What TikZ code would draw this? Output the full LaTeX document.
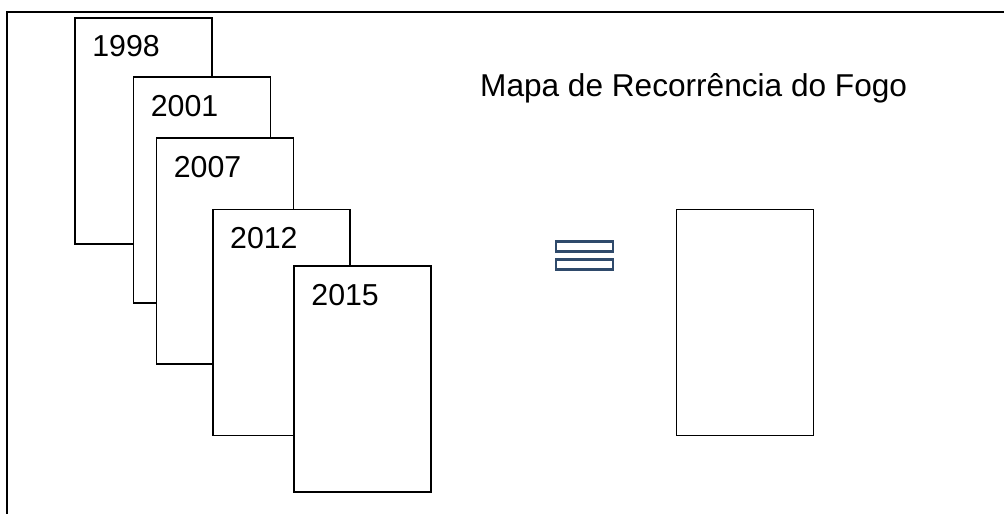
\documentclass[tikz,border=0pt]{standalone}
\usepackage{fontspec}
\setmainfont{Liberation Sans}
\usetikzlibrary{positioning}
\definecolor{eqblue}{HTML}{2F4A6B}

\begin{document}
\begin{tikzpicture}[x=1pt,y=-1pt,
    sheet/.style={draw,fill=white,line width=1.6pt,minimum width=137pt,minimum height=226pt,inner sep=0pt},
    year/.style={anchor=base west,inner sep=0pt,font=\fontsize{30.3}{36}\selectfont},
    bar/.style={draw=eqblue,fill=white,line width=2.8pt,minimum width=57pt,minimum height=10pt,inner sep=0pt}]
  \useasboundingbox (0,0) rectangle (1004,514);
  \draw[line width=1.8pt] (7,514) |- (1004,12);

  \path
  (143.5,130.7) node[sheet](m1998) {}
  ([shift={(18,40)}]m1998.north west) node[year](t1998) {1998}
  (202,189.8) node[sheet](m2001) {}
  ([shift={(18,40)}]m2001.north west) node[year](t2001) {2001}
  (225,251) node[sheet](m2007) {}
  ([shift={(18,40)}]m2007.north west) node[year](t2007) {2007}
  (281.3,322.5) node[sheet](m2012) {}
  ([shift={(18,40)}]m2012.north west) node[year](t2012) {2012}
  (362.5,379) node[sheet](m2015) {}
  ([shift={(18,40)}]m2015.north west) node[year](t2015) {2015}
  ;

  \node[bar] (eqtop) at (584.5,246.3) {};
  \node[bar] (eqbot) at (584.5,264.7) {};

  \node[sheet] (mapa) at (745,322.5) {};
  \node[year,font=\fontsize{31.6}{38}\selectfont] (title) at (480,96) {Mapa de Recorrência do Fogo};
\end{tikzpicture}
\end{document}
